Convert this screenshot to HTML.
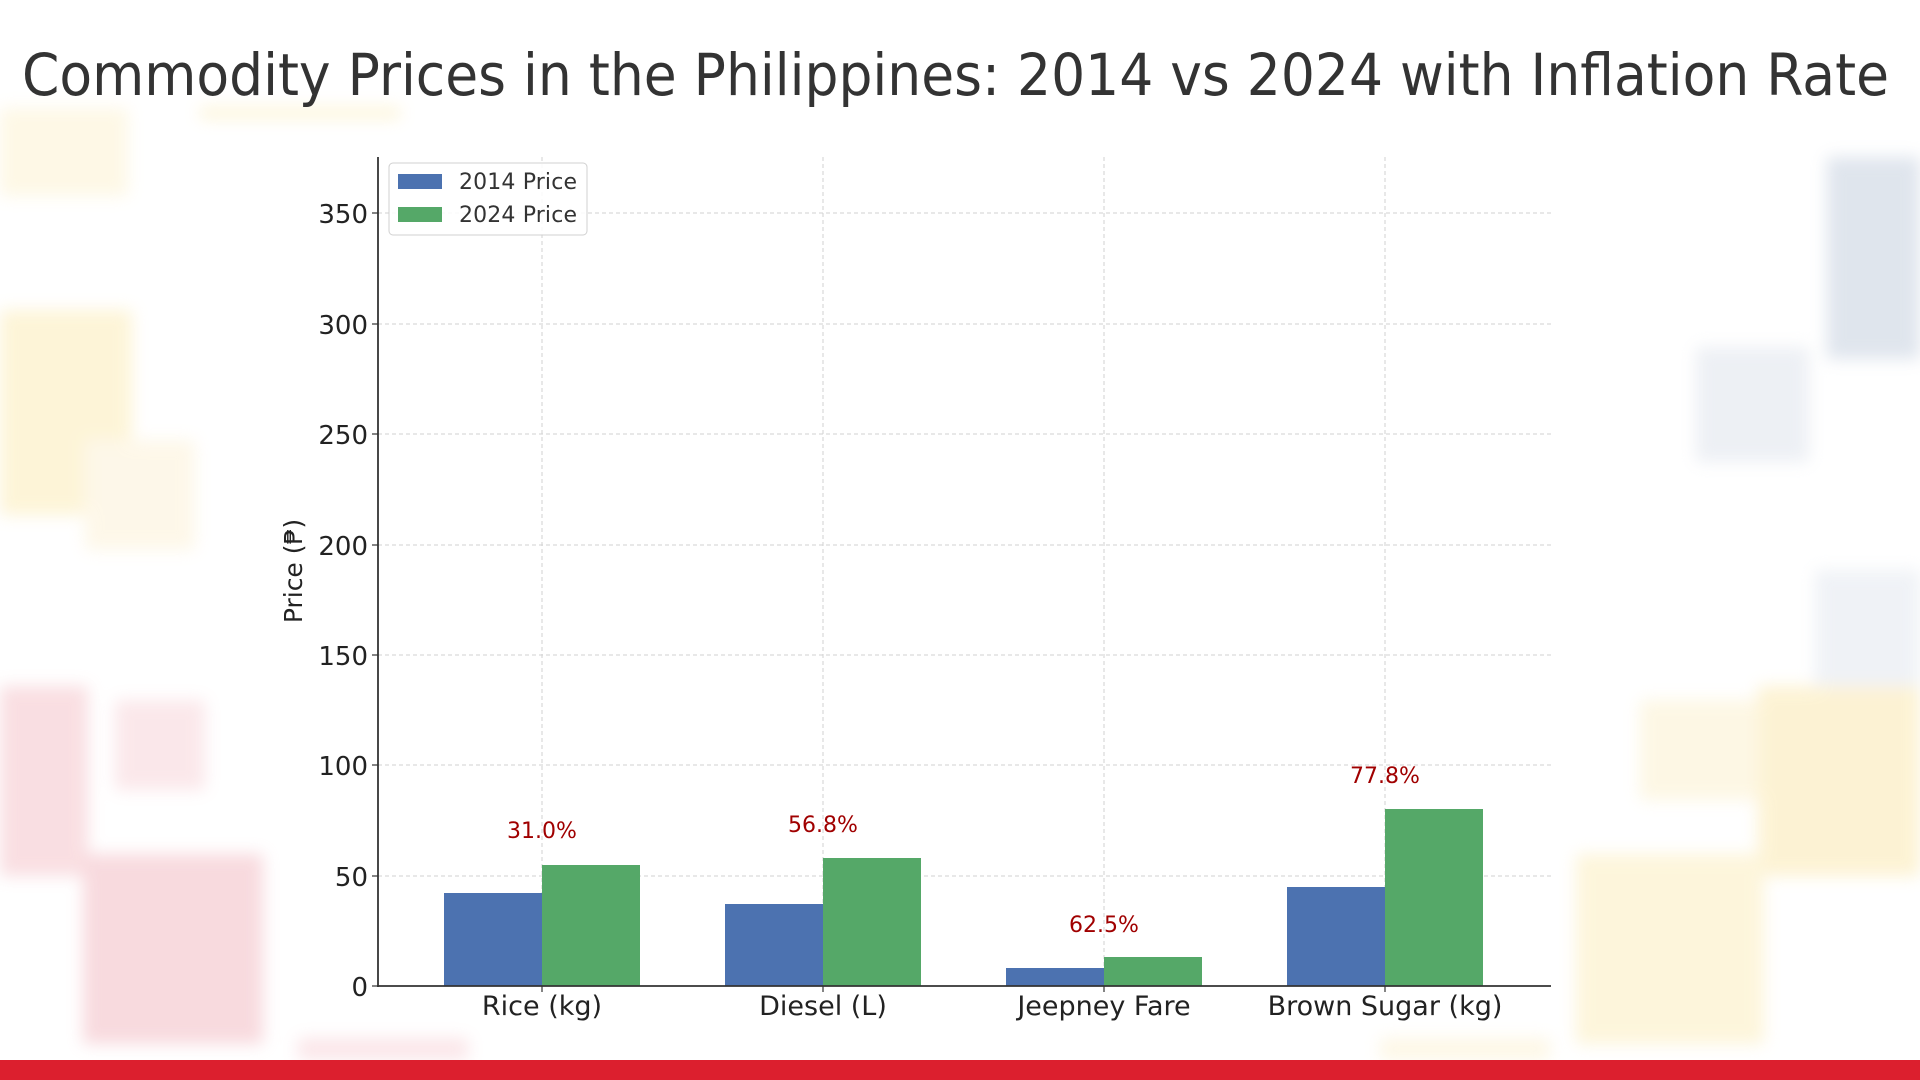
<!DOCTYPE html>
<html><head><meta charset="utf-8"><style>
html,body{margin:0;padding:0;width:1920px;height:1080px;overflow:hidden;background:#fff}
svg{display:block}
</style></head><body>
<svg width="1920" height="1080" xmlns="http://www.w3.org/2000/svg" font-family="'DejaVu Sans','Liberation Sans',sans-serif">
<defs>
<filter id="b"><feGaussianBlur stdDeviation="8"/></filter>
</defs>
<rect width="1920" height="1080" fill="#fff"/>
<g filter="url(#b)" opacity="0.45">
<rect x="0" y="108" width="128" height="88" fill="#fdf0c8"/>
<rect x="0" y="310" width="132" height="205" fill="#fbe8a8"/>
<rect x="85" y="440" width="110" height="110" fill="#fcefcf"/>
<rect x="0" y="686" width="88" height="190" fill="#f3b8bf"/>
<rect x="115" y="700" width="90" height="90" fill="#f6ccd2"/>
<rect x="83" y="854" width="180" height="190" fill="#f0aeb7"/>
<rect x="298" y="1038" width="170" height="22" fill="#f6c8cf"/>
<rect x="1827" y="157" width="93" height="202" fill="#b9c6d8"/>
<rect x="1696" y="347" width="113" height="115" fill="#d8dee8"/>
<rect x="1815" y="570" width="105" height="120" fill="#dde3ec"/>
<rect x="1640" y="700" width="120" height="100" fill="#fbeec5"/>
<rect x="1758" y="686" width="162" height="190" fill="#fae4a0"/>
<rect x="1576" y="854" width="188" height="190" fill="#fbeab0"/>
<rect x="1380" y="1038" width="170" height="22" fill="#fbeec8"/>
<rect x="200" y="108" width="200" height="10" fill="#fbe6a0"/>
</g>
<text x="22" y="95" font-size="58" fill="#333" textLength="1867" lengthAdjust="spacingAndGlyphs">Commodity Prices in the Philippines: 2014 vs 2024 with Inflation Rate</text>
<g stroke="#d2d2d2" stroke-width="1" stroke-dasharray="4,3">
<line x1="378" x2="1551" y1="213" y2="213"/>
<line x1="378" x2="1551" y1="324" y2="324"/>
<line x1="378" x2="1551" y1="434" y2="434"/>
<line x1="378" x2="1551" y1="545" y2="545"/>
<line x1="378" x2="1551" y1="655" y2="655"/>
<line x1="378" x2="1551" y1="765" y2="765"/>
<line x1="378" x2="1551" y1="876" y2="876"/>
<line x1="542" x2="542" y1="157" y2="986"/>
<line x1="823" x2="823" y1="157" y2="986"/>
<line x1="1104" x2="1104" y1="157" y2="986"/>
<line x1="1385" x2="1385" y1="157" y2="986"/>
</g>
<g>
<rect x="444" y="893" width="98" height="93" fill="#4c72b0"/>
<rect x="542" y="865" width="98" height="121" fill="#55a868"/>
<rect x="725" y="904" width="98" height="82" fill="#4c72b0"/>
<rect x="823" y="858" width="98" height="128" fill="#55a868"/>
<rect x="1006" y="968" width="98" height="18" fill="#4c72b0"/>
<rect x="1104" y="957" width="98" height="29" fill="#55a868"/>
<rect x="1287" y="887" width="98" height="99" fill="#4c72b0"/>
<rect x="1385" y="809" width="98" height="177" fill="#55a868"/>
</g>
<g font-size="22" fill="#a00000" text-anchor="middle">
<text x="542" y="838">31.0%</text>
<text x="823" y="832">56.8%</text>
<text x="1104" y="932">62.5%</text>
<text x="1385" y="783">77.8%</text>
</g>
<line x1="378" y1="157" x2="378" y2="987" stroke="#333" stroke-width="1.8"/>
<line x1="377" y1="986" x2="1551" y2="986" stroke="#333" stroke-width="1.8"/>
<g stroke="#333" stroke-width="1.2">
<line x1="372" x2="378" y1="213" y2="213"/><line x1="372" x2="378" y1="324" y2="324"/>
<line x1="372" x2="378" y1="434" y2="434"/><line x1="372" x2="378" y1="545" y2="545"/>
<line x1="372" x2="378" y1="655" y2="655"/><line x1="372" x2="378" y1="765" y2="765"/>
<line x1="372" x2="378" y1="876" y2="876"/><line x1="372" x2="378" y1="986" y2="986"/>
<line x1="542" x2="542" y1="986" y2="992"/><line x1="823" x2="823" y1="986" y2="992"/>
<line x1="1104" x2="1104" y1="986" y2="992"/><line x1="1385" x2="1385" y1="986" y2="992"/>
</g>
<g font-size="26" fill="#222" text-anchor="end">
<text x="368" y="223">350</text><text x="368" y="334">300</text>
<text x="368" y="444">250</text><text x="368" y="555">200</text>
<text x="368" y="665">150</text><text x="368" y="775">100</text>
<text x="368" y="886">50</text><text x="368" y="996">0</text>
</g>
<g font-size="27" fill="#222" text-anchor="middle">
<text x="542" y="1015">Rice (kg)</text>
<text x="823" y="1015">Diesel (L)</text>
<text x="1104" y="1015">Jeepney Fare</text>
<text x="1385" y="1015">Brown Sugar (kg)</text>
</g>
<text transform="translate(302,571) rotate(-90)" font-size="25" fill="#222" text-anchor="middle">Price (₱)</text>
<rect x="389" y="163" width="198" height="72" rx="4" fill="#fff" fill-opacity="0.85" stroke="#d0d0d0"/>
<rect x="398" y="174" width="44" height="15" fill="#4c72b0"/>
<rect x="398" y="207" width="44" height="15" fill="#55a868"/>
<g font-size="22" fill="#333">
<text x="459" y="189" textLength="118">2014 Price</text>
<text x="459" y="222" textLength="118">2024 Price</text>
</g>
<rect x="0" y="1060" width="1920" height="20" fill="#dc1f2e"/>
</svg>
</body></html>
